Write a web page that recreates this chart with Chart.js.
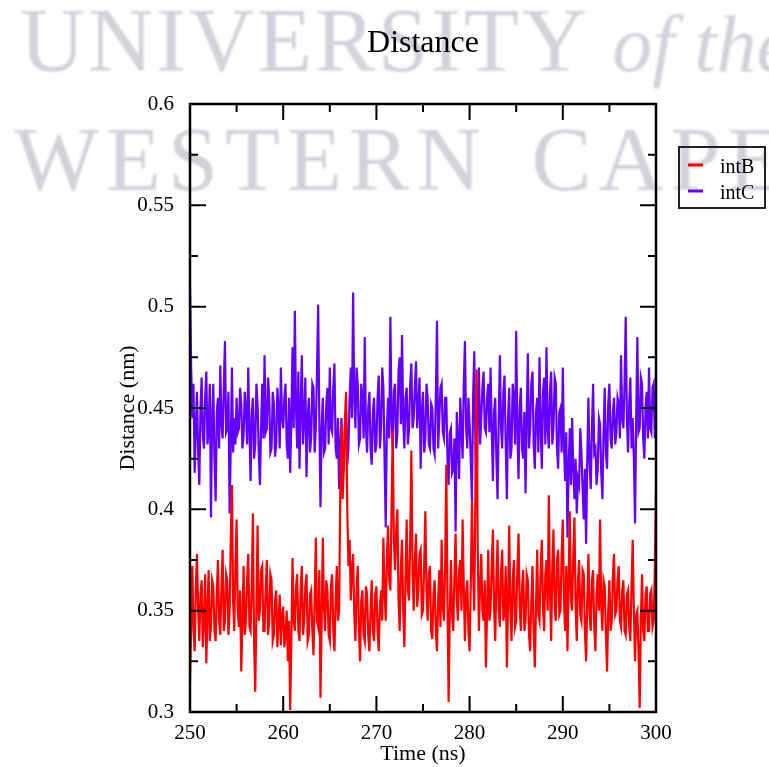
<!DOCTYPE html>
<html>
<head>
<meta charset="utf-8">
<title>Distance</title>
<style>
  html, body { margin: 0; padding: 0; background: #fff; }
  #wrap { position: relative; width: 769px; height: 767px; overflow: hidden; }
  .wm { position: absolute; left: 0; line-height: 1; white-space: nowrap;
        font-family: "Liberation Serif", serif; color: rgb(210,210,218); filter: blur(1px); }
  canvas { position: absolute; left: 0; top: 0; }
</style>
<script src="https://cdn.jsdelivr.net/npm/chart.js@4.4.0/dist/chart.umd.min.js"></script>
</head>
<body>
<div id="wrap">
  <div class="wm" style="top:-4px; left:20px; font-size:90px; letter-spacing:3px;">UNIVERSITY <i style="font-size:80px; letter-spacing:0;">of the</i></div>
  <div class="wm" style="top:115px; left:14px; font-size:90px; letter-spacing:7px; word-spacing:14px;">WESTERN CAPE</div>
  <canvas id="chart" width="769" height="767"></canvas>
</div>
<script>
// time axis sampling (ns)
const timeStart = 250;
const timeStep = 0.125;

// intB distance (nm)
const intB = [
  0.314, 0.345, 0.372, 0.340, 0.330, 0.362, 0.378, 0.350, 0.335, 0.358, 0.365, 0.332, 0.345, 0.368, 0.324, 0.350,
  0.370, 0.335, 0.342, 0.365, 0.362, 0.340, 0.335, 0.358, 0.375, 0.345, 0.338, 0.362, 0.380, 0.340, 0.345, 0.368,
  0.365, 0.338, 0.350, 0.385, 0.412, 0.355, 0.340, 0.372, 0.395, 0.350, 0.342, 0.360, 0.320, 0.345, 0.372, 0.338,
  0.345, 0.365, 0.378, 0.342, 0.340, 0.362, 0.398, 0.335, 0.310, 0.350, 0.392, 0.345, 0.350, 0.370, 0.372, 0.340,
  0.340, 0.362, 0.375, 0.338, 0.345, 0.368, 0.365, 0.335, 0.338, 0.355, 0.360, 0.332, 0.345, 0.358, 0.333, 0.348,
  0.352, 0.332, 0.338, 0.350, 0.325, 0.345, 0.301, 0.335, 0.376, 0.345, 0.340, 0.362, 0.368, 0.340, 0.335, 0.360,
  0.372, 0.338, 0.345, 0.362, 0.368, 0.335, 0.338, 0.358, 0.360, 0.340, 0.328, 0.355, 0.386, 0.345, 0.342, 0.370,
  0.307, 0.345, 0.386, 0.352, 0.340, 0.365, 0.360, 0.338, 0.335, 0.362, 0.368, 0.340, 0.330, 0.355, 0.372, 0.345,
  0.350, 0.410, 0.442, 0.405, 0.420, 0.445, 0.458, 0.400, 0.372, 0.385, 0.355, 0.370, 0.378, 0.348, 0.335, 0.360,
  0.372, 0.340, 0.325, 0.355, 0.360, 0.338, 0.335, 0.362, 0.358, 0.338, 0.330, 0.350, 0.365, 0.340, 0.335, 0.358,
  0.362, 0.340, 0.330, 0.352, 0.360, 0.345, 0.386, 0.360, 0.345, 0.375, 0.392, 0.365, 0.360, 0.400, 0.439, 0.385,
  0.370, 0.390, 0.400, 0.355, 0.340, 0.372, 0.385, 0.350, 0.332, 0.368, 0.395, 0.360, 0.355, 0.385, 0.429, 0.370,
  0.350, 0.375, 0.388, 0.352, 0.360, 0.378, 0.380, 0.348, 0.350, 0.372, 0.399, 0.360, 0.345, 0.368, 0.372, 0.340,
  0.336, 0.358, 0.365, 0.340, 0.330, 0.355, 0.370, 0.342, 0.385, 0.352, 0.345, 0.372, 0.422, 0.355, 0.305, 0.350,
  0.375, 0.348, 0.340, 0.368, 0.388, 0.355, 0.345, 0.370, 0.375, 0.350, 0.395, 0.362, 0.335, 0.358, 0.365, 0.340,
  0.330, 0.362, 0.404, 0.370, 0.350, 0.410, 0.469, 0.380, 0.340, 0.362, 0.378, 0.350, 0.345, 0.365, 0.322, 0.350,
  0.380, 0.345, 0.350, 0.372, 0.390, 0.352, 0.335, 0.365, 0.385, 0.350, 0.342, 0.370, 0.380, 0.345, 0.350, 0.372,
  0.322, 0.355, 0.392, 0.350, 0.335, 0.365, 0.375, 0.342, 0.345, 0.370, 0.388, 0.352, 0.340, 0.362, 0.370, 0.340,
  0.345, 0.368, 0.365, 0.338, 0.330, 0.355, 0.372, 0.340, 0.322, 0.352, 0.380, 0.348, 0.345, 0.370, 0.385, 0.352,
  0.340, 0.368, 0.375, 0.350, 0.407, 0.360, 0.335, 0.372, 0.390, 0.352, 0.345, 0.375, 0.380, 0.348, 0.350, 0.378,
  0.395, 0.355, 0.340, 0.372, 0.330, 0.365, 0.399, 0.355, 0.350, 0.378, 0.396, 0.352, 0.335, 0.365, 0.375, 0.348,
  0.345, 0.370, 0.368, 0.340, 0.325, 0.355, 0.378, 0.348, 0.340, 0.365, 0.370, 0.342, 0.330, 0.358, 0.368, 0.350,
  0.395, 0.352, 0.340, 0.365, 0.362, 0.338, 0.320, 0.350, 0.365, 0.340, 0.345, 0.368, 0.378, 0.348, 0.350, 0.365,
  0.372, 0.345, 0.342, 0.360, 0.365, 0.340, 0.338, 0.358, 0.360, 0.342, 0.335, 0.362, 0.385, 0.350, 0.325, 0.348,
  0.350, 0.330, 0.302, 0.345, 0.368, 0.340, 0.335, 0.358, 0.362, 0.340, 0.340, 0.358, 0.360, 0.342, 0.345, 0.370,
  0.409
];

// intC distance (nm)
const intC = [
  0.510, 0.470, 0.445, 0.462, 0.418, 0.440, 0.458, 0.428, 0.412, 0.450, 0.465, 0.436, 0.430, 0.455, 0.468, 0.432,
  0.440, 0.462, 0.396, 0.445, 0.462, 0.425, 0.404, 0.448, 0.455, 0.430, 0.471, 0.442, 0.435, 0.460, 0.483, 0.438,
  0.440, 0.458, 0.398, 0.432, 0.470, 0.428, 0.445, 0.432, 0.455, 0.438, 0.440, 0.460, 0.452, 0.430, 0.436, 0.458,
  0.450, 0.432, 0.470, 0.440, 0.414, 0.448, 0.455, 0.425, 0.432, 0.462, 0.452, 0.428, 0.412, 0.440, 0.462, 0.435,
  0.476, 0.438, 0.440, 0.465, 0.455, 0.428, 0.430, 0.458, 0.452, 0.426, 0.432, 0.460, 0.450, 0.430, 0.470, 0.445,
  0.440, 0.455, 0.462, 0.432, 0.425, 0.455, 0.418, 0.445, 0.480, 0.440, 0.498, 0.450, 0.430, 0.468, 0.420, 0.450,
  0.476, 0.432, 0.445, 0.465, 0.416, 0.445, 0.455, 0.428, 0.435, 0.462, 0.460, 0.428, 0.440, 0.468, 0.501, 0.445,
  0.401, 0.440, 0.455, 0.428, 0.430, 0.452, 0.460, 0.432, 0.470, 0.440, 0.438, 0.460, 0.472, 0.430, 0.425, 0.445,
  0.410, 0.432, 0.445, 0.418, 0.420, 0.440, 0.448, 0.422, 0.430, 0.455, 0.470, 0.445, 0.507, 0.455, 0.440, 0.470,
  0.462, 0.432, 0.435, 0.462, 0.455, 0.435, 0.485, 0.440, 0.428, 0.450, 0.458, 0.430, 0.422, 0.448, 0.455, 0.428,
  0.432, 0.455, 0.466, 0.430, 0.440, 0.470, 0.460, 0.425, 0.391, 0.440, 0.455, 0.435, 0.495, 0.445, 0.430, 0.458,
  0.462, 0.430, 0.438, 0.468, 0.475, 0.442, 0.486, 0.445, 0.430, 0.455, 0.460, 0.432, 0.440, 0.462, 0.472, 0.440,
  0.445, 0.460, 0.473, 0.440, 0.450, 0.465, 0.420, 0.448, 0.458, 0.428, 0.435, 0.462, 0.455, 0.432, 0.430, 0.452,
  0.450, 0.430, 0.427, 0.455, 0.493, 0.430, 0.445, 0.460, 0.462, 0.438, 0.435, 0.455, 0.455, 0.425, 0.412, 0.438,
  0.440, 0.418, 0.420, 0.435, 0.389, 0.448, 0.435, 0.415, 0.455, 0.440, 0.425, 0.462, 0.483, 0.440, 0.430, 0.455,
  0.442, 0.425, 0.404, 0.455, 0.478, 0.430, 0.402, 0.448, 0.470, 0.432, 0.445, 0.460, 0.468, 0.440, 0.438, 0.455,
  0.462, 0.438, 0.470, 0.440, 0.414, 0.448, 0.455, 0.425, 0.405, 0.445, 0.476, 0.440, 0.430, 0.458, 0.466, 0.432,
  0.405, 0.445, 0.460, 0.425, 0.430, 0.462, 0.455, 0.432, 0.488, 0.440, 0.415, 0.450, 0.460, 0.430, 0.425, 0.448,
  0.408, 0.445, 0.477, 0.430, 0.440, 0.462, 0.468, 0.432, 0.420, 0.448, 0.455, 0.428, 0.475, 0.440, 0.420, 0.458,
  0.465, 0.432, 0.480, 0.440, 0.430, 0.458, 0.468, 0.432, 0.440, 0.465, 0.462, 0.430, 0.420, 0.448, 0.450, 0.428,
  0.470, 0.432, 0.414, 0.438, 0.386, 0.420, 0.440, 0.412, 0.445, 0.420, 0.405, 0.425, 0.398, 0.415, 0.412, 0.440,
  0.428, 0.410, 0.395, 0.420, 0.383, 0.425, 0.455, 0.422, 0.410, 0.440, 0.462, 0.428, 0.430, 0.412, 0.420, 0.445,
  0.442, 0.418, 0.405, 0.438, 0.460, 0.428, 0.420, 0.452, 0.462, 0.435, 0.430, 0.448, 0.455, 0.432, 0.438, 0.455,
  0.452, 0.435, 0.476, 0.445, 0.440, 0.462, 0.495, 0.445, 0.428, 0.452, 0.465, 0.430, 0.445, 0.425, 0.393, 0.445,
  0.485, 0.438, 0.440, 0.465, 0.462, 0.435, 0.425, 0.450, 0.458, 0.435, 0.470, 0.440, 0.438, 0.460, 0.462, 0.435,
  0.448
];

// ticks
const xTicks = [250, 260, 270, 280, 290, 300];
const xMinorTicks = [255, 265, 275, 285, 295];
const yTicks = [0.3, 0.35, 0.4, 0.45, 0.5, 0.55, 0.6];
const yMinorTicks = [0.325, 0.375, 0.425, 0.475, 0.525, 0.575];

const serif = '"Liberation Serif", "Times New Roman", serif';
const toPoints = arr => arr.map((v, i) => ({ x: timeStart + i * timeStep, y: v }));

// frame, inward tick marks, title and legend in xmgrace style
const gracePlugin = {
  id: 'grace',
  afterDatasetsDraw(chart) {
    const { ctx, chartArea: a, scales: { x, y } } = chart;
    ctx.save();
    ctx.strokeStyle = '#000';
    ctx.lineCap = 'butt';

    ctx.lineWidth = 2;
    const vTick = (v, len) => {
      const px = x.getPixelForValue(v);
      ctx.beginPath();
      ctx.moveTo(px, a.bottom); ctx.lineTo(px, a.bottom - len);
      ctx.moveTo(px, a.top); ctx.lineTo(px, a.top + len);
      ctx.stroke();
    };
    const hTick = (v, len) => {
      const py = y.getPixelForValue(v);
      ctx.beginPath();
      ctx.moveTo(a.left, py); ctx.lineTo(a.left + len, py);
      ctx.moveTo(a.right, py); ctx.lineTo(a.right - len, py);
      ctx.stroke();
    };
    xTicks.forEach(v => vTick(v, 16));
    xMinorTicks.forEach(v => vTick(v, 8));
    yTicks.forEach(v => hTick(v, 16));
    yMinorTicks.forEach(v => hTick(v, 8));

    ctx.lineWidth = 2.5;
    ctx.strokeRect(a.left, a.top, a.right - a.left, a.bottom - a.top);
    ctx.restore();
  },
  afterDraw(chart) {
    const { ctx, chartArea: a } = chart;
    ctx.save();
    ctx.fillStyle = '#000';
    ctx.textAlign = 'center';
    ctx.textBaseline = 'alphabetic';
    ctx.font = '32px ' + serif;
    ctx.fillText('Distance', (a.left + a.right) / 2, 52);

    // legend box
    ctx.strokeStyle = '#222';
    ctx.lineWidth = 2;
    ctx.strokeRect(679, 147, 86, 61);
    ctx.font = '20px ' + serif;
    ctx.textAlign = 'left';
    chart.data.datasets.forEach((ds, i) => {
      const ly = 165 + i * 26;
      ctx.strokeStyle = ds.borderColor;
      ctx.lineWidth = 3;
      ctx.beginPath();
      ctx.moveTo(688, ly); ctx.lineTo(703, ly);
      ctx.stroke();
      ctx.fillText(ds.label, 720, ly + 8);
    });
    ctx.restore();
  }
};

new Chart(document.getElementById('chart'), {
  type: 'line',
  data: {
    datasets: [
      { label: 'intB', data: toPoints(intB), borderColor: 'rgb(255,0,0)', borderWidth: 2.2 },
      { label: 'intC', data: toPoints(intC), borderColor: 'rgb(100,0,255)', borderWidth: 2.2 }
    ]
  },
  options: {
    responsive: false,
    animation: false,
    parsing: false,
    elements: { point: { radius: 0 }, line: { tension: 0, fill: false } },
    layout: { padding: { left: 0, right: 113, top: 104, bottom: 0 } },
    plugins: {
      legend: { display: false },
      title: { display: false },
      tooltip: { enabled: false }
    },
    scales: {
      x: {
        type: 'linear', min: 250, max: 300,
        afterBuildTicks: s => { s.ticks = xTicks.map(v => ({ value: v })); },
        afterFit: s => { s.height = 55; },
        grid: { display: false },
        border: { display: false },
        ticks: { color: '#000', font: { family: serif, size: 21 }, padding: 1, maxRotation: 0, autoSkip: false, callback: v => String(v) },
        title: { display: true, text: 'Time (ns)', color: '#000', font: { family: serif, size: 22 }, padding: { top: 0, bottom: 0 } }
      },
      y: {
        type: 'linear', min: 0.3, max: 0.6,
        afterBuildTicks: s => { s.ticks = yTicks.map(v => ({ value: v })); },
        afterFit: s => { s.width = 190; },
        grid: { display: false },
        border: { display: false },
        ticks: { color: '#000', font: { family: serif, size: 21 }, padding: 8, autoSkip: false, callback: v => String(v) },
        title: { display: true, text: 'Distance (nm)', color: '#000', font: { family: serif, size: 22 }, padding: { top: 115, bottom: 0 } }
      }
    }
  },
  plugins: [gracePlugin]
});
</script>
</body>
</html>
